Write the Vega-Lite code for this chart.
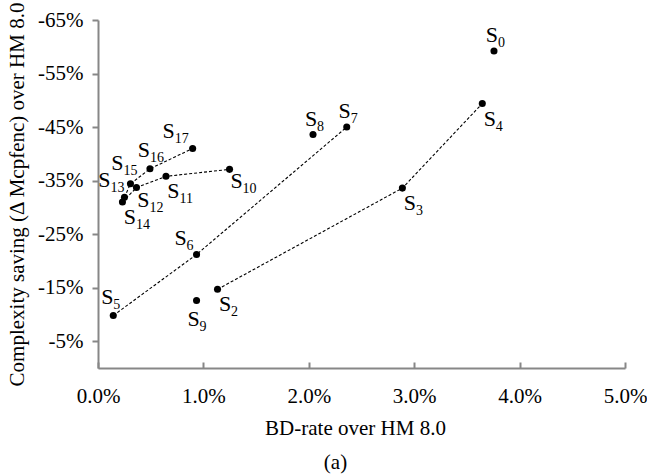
{
  "$schema": "https://vega.github.io/schema/vega-lite/v6.json",
  "width": 527,
  "height": 348,
  "autosize": "none",
  "padding": {"left": 98, "top": 20, "right": 22, "bottom": 107},
  "title": {"text": "(a)", "orient": "bottom", "anchor": "middle", "frame": "group", "dx": -26, "offset": 14, "font": "Liberation Serif", "fontSize": 21, "fontWeight": "normal", "color": "black"},
  "data": {"values": [
    {"id": "S0", "n": "0", "x": 0.03757, "y": -0.592, "line": null},
    {"id": "S2", "n": "2", "x": 0.01134, "y": -0.147, "line": "L2"},
    {"id": "S3", "n": "3", "x": 0.02888, "y": -0.336, "line": "L2"},
    {"id": "S4", "n": "4", "x": 0.03646, "y": -0.494, "line": "L2"},
    {"id": "S5", "n": "5", "x": 0.00145, "y": -0.098, "line": "L1"},
    {"id": "S6", "n": "6", "x": 0.00935, "y": -0.212, "line": "L1"},
    {"id": "S7", "n": "7", "x": 0.0236, "y": -0.450, "line": "L1"},
    {"id": "S8", "n": "8", "x": 0.0204, "y": -0.436, "line": null},
    {"id": "S9", "n": "9", "x": 0.00935, "y": -0.126, "line": null},
    {"id": "S10", "n": "10", "x": 0.01248, "y": -0.371, "line": "L4"},
    {"id": "S11", "n": "11", "x": 0.00645, "y": -0.358, "line": "L4"},
    {"id": "S12", "n": "12", "x": 0.00365, "y": -0.337, "line": "L4"},
    {"id": "S13", "n": "13", "x": 0.00251, "y": -0.319, "line": "L3"},
    {"id": "S14", "n": "14", "x": 0.00232, "y": -0.310, "line": "L4"},
    {"id": "S15", "n": "15", "x": 0.00308, "y": -0.344, "line": "L3"},
    {"id": "S16", "n": "16", "x": 0.00493, "y": -0.372, "line": "L3"},
    {"id": "S17", "n": "17", "x": 0.00898, "y": -0.410, "line": "L3"}
  ]},
  "encoding": {
    "x": {"field": "x", "type": "quantitative",
      "scale": {"domain": [0, 0.05], "nice": false, "zero": false},
      "axis": {"values": [0, 0.01, 0.02, 0.03, 0.04, 0.05], "format": ".1%", "title": "BD-rate over HM 8.0",
        "labelFont": "Liberation Serif", "titleFont": "Liberation Serif",
        "tickSize": -6, "labelPadding": 23, "titlePadding": 11, "labelFlush": false, "titleX": 257, "grid": false}},
    "y": {"field": "y", "type": "quantitative",
      "scale": {"domain": [-0.65, 0], "reverse": true, "nice": false, "zero": false},
      "axis": {"values": [-0.05, -0.15, -0.25, -0.35, -0.45, -0.55, -0.65],
        "labelExpr": "'-' + format(abs(datum.value), '.0%')",
        "labelFont": "Liberation Serif", "titleFont": "Liberation Serif",
        "title": "Complexity saving (Δ Mcpfenc) over HM 8.0",
        "tickSize": 6, "labelPadding": 9, "titlePadding": 10, "grid": false}}
  },
  "layer": [
    {"transform": [{"filter": "datum.line != null"}],
     "mark": {"type": "line", "color": "black", "strokeWidth": 1.1, "strokeDash": [3, 2]},
     "encoding": {"detail": {"field": "line"}, "order": {"field": "x", "type": "quantitative"}}},
    {"mark": {"type": "circle", "size": 50, "color": "black", "opacity": 1}},
    {"transform": [{"filter": {"field": "id", "oneOf": ["S0", "S8", "S7"]}}],
     "layer": [
       {"mark": {"type": "text", "text": "S", "font": "Liberation Serif", "fontSize": 22, "align": "center", "baseline": "middle", "dx": -2, "dy": -16, "color": "black"}},
       {"mark": {"type": "text", "font": "Liberation Serif", "fontSize": 14, "align": "left", "baseline": "middle", "dx": 4, "dy": -8, "color": "black"}, "encoding": {"text": {"field": "n"}}}
     ]},
    {"transform": [{"filter": {"field": "id", "oneOf": ["S5", "S16"]}}],
     "layer": [
       {"mark": {"type": "text", "text": "S", "font": "Liberation Serif", "fontSize": 22, "align": "center", "baseline": "middle", "dx": -6, "dy": -19, "color": "black"}},
       {"mark": {"type": "text", "font": "Liberation Serif", "fontSize": 14, "align": "left", "baseline": "middle", "dx": 0, "dy": -11, "color": "black"}, "encoding": {"text": {"field": "n"}}}
     ]},
    {"transform": [{"filter": {"field": "id", "oneOf": ["S4", "S3", "S2", "S14", "S11"]}}],
     "layer": [
       {"mark": {"type": "text", "text": "S", "font": "Liberation Serif", "fontSize": 22, "align": "center", "baseline": "middle", "dx": 7.5, "dy": 15, "color": "black"}},
       {"mark": {"type": "text", "font": "Liberation Serif", "fontSize": 14, "align": "left", "baseline": "middle", "dx": 13.5, "dy": 23, "color": "black"}, "encoding": {"text": {"field": "n"}}}
     ]},
    {"transform": [{"filter": {"field": "id", "oneOf": ["S10", "S12"]}}],
     "layer": [
       {"mark": {"type": "text", "text": "S", "font": "Liberation Serif", "fontSize": 22, "align": "center", "baseline": "middle", "dx": 7, "dy": 12, "color": "black"}},
       {"mark": {"type": "text", "font": "Liberation Serif", "fontSize": 14, "align": "left", "baseline": "middle", "dx": 13, "dy": 20, "color": "black"}, "encoding": {"text": {"field": "n"}}}
     ]},
    {"transform": [{"filter": {"field": "id", "oneOf": ["S9"]}}],
     "layer": [
       {"mark": {"type": "text", "text": "S", "font": "Liberation Serif", "fontSize": 22, "align": "center", "baseline": "middle", "dx": -3, "dy": 18, "color": "black"}},
       {"mark": {"type": "text", "font": "Liberation Serif", "fontSize": 14, "align": "left", "baseline": "middle", "dx": 3, "dy": 26, "color": "black"}, "encoding": {"text": {"field": "n"}}}
     ]},
    {"transform": [{"filter": {"field": "id", "oneOf": ["S6"]}}],
     "layer": [
       {"mark": {"type": "text", "text": "S", "font": "Liberation Serif", "fontSize": 22, "align": "center", "baseline": "middle", "dx": -16, "dy": -16, "color": "black"}},
       {"mark": {"type": "text", "font": "Liberation Serif", "fontSize": 14, "align": "left", "baseline": "middle", "dx": -10, "dy": -8, "color": "black"}, "encoding": {"text": {"field": "n"}}}
     ]},
    {"transform": [{"filter": {"field": "id", "oneOf": ["S17"]}}],
     "layer": [
       {"mark": {"type": "text", "text": "S", "font": "Liberation Serif", "fontSize": 22, "align": "center", "baseline": "middle", "dx": -24, "dy": -17, "color": "black"}},
       {"mark": {"type": "text", "font": "Liberation Serif", "fontSize": 14, "align": "left", "baseline": "middle", "dx": -18, "dy": -9, "color": "black"}, "encoding": {"text": {"field": "n"}}}
     ]},
    {"transform": [{"filter": {"field": "id", "oneOf": ["S15"]}}],
     "layer": [
       {"mark": {"type": "text", "text": "S", "font": "Liberation Serif", "fontSize": 22, "align": "center", "baseline": "middle", "dx": -13, "dy": -21, "color": "black"}},
       {"mark": {"type": "text", "font": "Liberation Serif", "fontSize": 14, "align": "left", "baseline": "middle", "dx": -7, "dy": -13, "color": "black"}, "encoding": {"text": {"field": "n"}}}
     ]},
    {"transform": [{"filter": {"field": "id", "oneOf": ["S13"]}}],
     "layer": [
       {"mark": {"type": "text", "text": "S", "font": "Liberation Serif", "fontSize": 22, "align": "center", "baseline": "middle", "dx": -20, "dy": -17, "color": "black"}},
       {"mark": {"type": "text", "font": "Liberation Serif", "fontSize": 14, "align": "left", "baseline": "middle", "dx": -14, "dy": -9, "color": "black"}, "encoding": {"text": {"field": "n"}}}
     ]}
  ],
  "config": {
    "view": {"stroke": null},
    "font": "Liberation Serif",
    "text": {"font": "Liberation Serif"},
    "axis": {"labelFont": "Liberation Serif", "titleFont": "Liberation Serif", "labelFontSize": 21, "titleFontSize": 21,
      "labelColor": "black", "titleColor": "black", "titleFontWeight": "normal",
      "domainColor": "#878787", "tickColor": "#878787", "domainWidth": 2, "tickWidth": 2}
  }
}
